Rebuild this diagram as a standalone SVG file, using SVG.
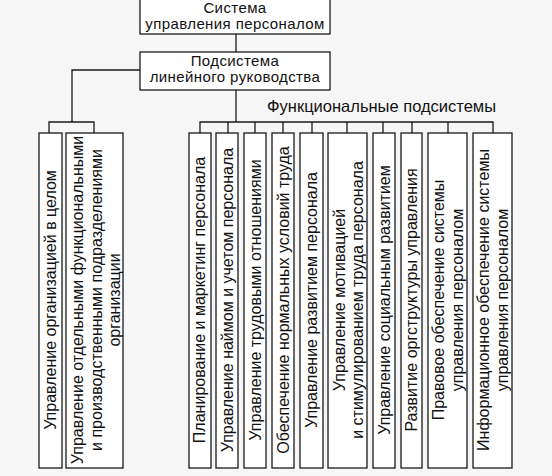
<svg xmlns="http://www.w3.org/2000/svg" width="552" height="476" viewBox="0 0 552 476">
<style>
.box{fill:#ffffff;stroke:#1a1a1a;stroke-width:1.3}
.ln{fill:none;stroke:#1a1a1a;stroke-width:1.3}
.t{font-family:"Liberation Sans",Arial,sans-serif;font-size:16px;fill:#111;text-anchor:middle}
.hb{font-family:"Liberation Sans",Arial,sans-serif;font-size:15px;letter-spacing:0.4px;fill:#111;text-anchor:middle}
.h{font-family:"Liberation Sans",Arial,sans-serif;font-size:16.5px;fill:#111}
</style>
<rect x="0" y="0" width="552" height="476" fill="#f6f6f6"/>
<g id="connectors">
<path class="ln" d="M236,34 V52"/>
<path class="ln" d="M140,70 H72 V122"/>
<path class="ln" d="M49,133 V122 H94 V133"/>
<path class="ln" d="M236,90 V122"/>
<path class="ln" d="M200,133 V122 H493 V133"/>
<path class="ln" d="M228,122 V133 M255,122 V133 M283,122 V133 M312,122 V133 M347,122 V133 M383,122 V133 M412,122 V133 M448,122 V133"/>
</g>
<g id="n-system">
<rect class="box" x="140" y="-1" width="190" height="35"/>
<text class="hb" x="235" y="13">Система</text>
<text class="hb" x="235" y="29">управления персоналом</text>
</g>
<g id="n-linear">
<rect class="box" x="140" y="52" width="190" height="38"/>
<text class="hb" x="235" y="66">Подсистема</text>
<text class="hb" x="235" y="82">линейного руководства</text>
</g>
<g id="n-func-label">
<text class="h" x="267" y="112">Функциональные подсистемы</text>
</g>
<g id="n-l1">
<rect class="box" x="39" y="133" width="23" height="335"/>
<text class="t" transform="translate(50.5,300) rotate(-90)" y="5.5">Управление организацией в целом</text>
</g>
<g id="n-l2">
<rect class="box" x="66" y="133" width="57" height="335"/>
<text class="t" transform="translate(96,300) rotate(-90)"><tspan x="0" y="-13">Управление отдельными функциональными</tspan><tspan x="0" y="5.5">и производственными подразделениями</tspan><tspan x="0" y="24">организации</tspan></text>
</g>
<g id="n-f1">
<rect class="box" x="189" y="133" width="22" height="335"/>
<text class="t" transform="translate(199,300) rotate(-90)" y="5.5">Планирование и маркетинг персонала</text>
</g>
<g id="n-f2">
<rect class="box" x="216" y="133" width="22" height="335"/>
<text class="t" transform="translate(227,300) rotate(-90)" y="5.5">Управление наймом и учетом персонала</text>
</g>
<g id="n-f3">
<rect class="box" x="244" y="133" width="22" height="335"/>
<text class="t" transform="translate(255,300) rotate(-90)" y="5.5">Управление трудовыми отношениями</text>
</g>
<g id="n-f4">
<rect class="box" x="272" y="133" width="22" height="335"/>
<text class="t" transform="translate(283,300) rotate(-90)" y="5.5">Обеспечение нормальных условий труда</text>
</g>
<g id="n-f5">
<rect class="box" x="300" y="133" width="23" height="335"/>
<text class="t" transform="translate(311,300) rotate(-90)" y="5.5">Управление развитием персонала</text>
</g>
<g id="n-f6">
<rect class="box" x="328" y="133" width="39" height="335"/>
<text class="t" transform="translate(348,300) rotate(-90)"><tspan x="0" y="-3.5">Управление мотивацией</tspan><tspan x="0" y="14.5">и стимулированием труда персонала</tspan></text>
</g>
<g id="n-f7">
<rect class="box" x="373" y="133" width="22" height="335"/>
<text class="t" transform="translate(384,300) rotate(-90)" y="5.5">Управление социальным развитием</text>
</g>
<g id="n-f8">
<rect class="box" x="401" y="133" width="21" height="335"/>
<text class="t" transform="translate(411.5,300) rotate(-90)" y="5.5">Развитие оргструктуры управления</text>
</g>
<g id="n-f9">
<rect class="box" x="428" y="133" width="39" height="335"/>
<text class="t" transform="translate(447.5,300) rotate(-90)"><tspan x="0" y="-3.5">Правовое обеспечение системы</tspan><tspan x="0" y="15">управления персоналом</tspan></text>
</g>
<g id="n-f10">
<rect class="box" x="473" y="133" width="39" height="335"/>
<text class="t" transform="translate(492.5,300) rotate(-90)"><tspan x="0" y="-3.5">Информационное обеспечение системы</tspan><tspan x="0" y="15">управления персоналом</tspan></text>
</g>
</svg>
